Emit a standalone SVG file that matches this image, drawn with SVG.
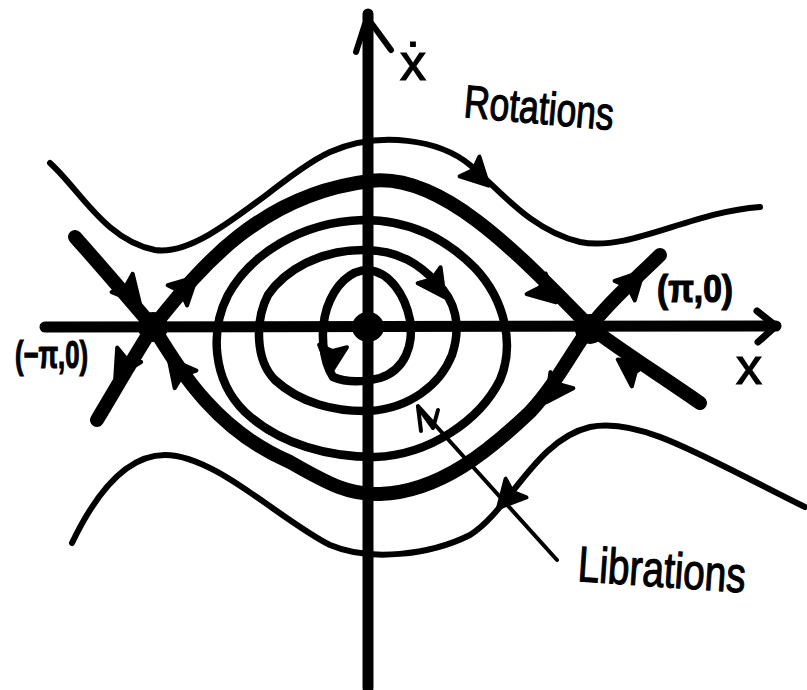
<svg xmlns="http://www.w3.org/2000/svg" xmlns:xlink="http://www.w3.org/1999/xlink" width="807" height="690" viewBox="0 0 807 690">
<style>
.c{fill:none;stroke:#000;stroke-linecap:round;stroke-linejoin:round}
.sep{stroke-width:14}
.rot{stroke-width:6}
.lib{stroke-width:8.5}
.ax{stroke-width:11}
.ah{fill:#000;stroke:#000;stroke-width:4;stroke-linejoin:round}
.t{font-family:"Liberation Sans",Arial,sans-serif;fill:#000;stroke:#000;stroke-width:1.2}
</style>
<defs>
<path id="ah" d="M15,0 L-12,-14 L-7,0 L-12,14 Z"/>
</defs>
<rect width="807" height="690" fill="#fff"/>
<g id="axes">
<path class="c ax" d="M368,688 L368,14"/>
<path class="c" stroke-width="6" d="M356,52 L365,24 M391,50 L372,24"/>
<path class="c ax" d="M45,327 L776,326"/>
<path class="c" stroke-width="7" d="M757,311 L776,326 L758,342"/>
<ellipse cx="368" cy="327" rx="16" ry="15" fill="#000"/>
</g>
<g id="rotations">
<path class="c rot" d="M50,163 C80,190 105,240 155,250 C205,258 280,175 330,152 C380,130 440,140 470,165 C500,190 530,230 580,242 C630,252 690,212 760,207"/>
<path class="c rot" d="M72,543 C95,495 125,455 165,455 C215,455 280,520 330,545 C370,562 430,555 470,535 C510,510 535,440 590,427 C640,417 700,455 805,507"/>
</g>
<g id="separatrices">
<path class="c sep" d="M75,237 C100,265 130,300 153,327 C180,370 215,430 290,462 C330,485 350,495 380,494 C440,492 490,450 530,412 C555,385 570,355 590,327 C610,300 640,275 660,255"/>
<path class="c sep" d="M97,420 C115,390 135,355 153,327 C195,275 255,195 370,181 C440,172 515,250 590,327 C620,350 660,375 700,403"/>
<circle cx="153" cy="327" r="15" fill="#000"/>
<circle cx="590" cy="329" r="15" fill="#000"/>
</g>
<g id="librations">
<path class="c lib" d="M363,220 C300,222 250,255 228,295 C210,330 212,380 245,412 C280,445 330,457 375,457 C430,455 480,420 500,380 C515,345 505,300 475,268 C445,238 410,220 363,220 Z"/>
<path class="c lib" d="M363,250 C320,250 285,270 268,295 C255,320 255,360 275,380 C300,403 335,412 370,411 C410,408 440,385 452,355 C462,325 455,300 437,283 C420,265 400,250 363,250 Z"/>
<path class="c lib" d="M333,377 C322,360 320,330 327,308 C335,285 350,270 368,270 C390,272 405,295 410,320 C414,345 405,370 380,378 C360,383 345,382 333,377"/>
</g>
<g id="arrows">
<use xlink:href="#ah" class="ah" transform="translate(130,292) rotate(49)"/>
<use xlink:href="#ah" class="ah" transform="translate(186,287) rotate(-44)"/>
<use xlink:href="#ah" class="ah" transform="translate(123,365) rotate(121)"/>
<use xlink:href="#ah" class="ah" transform="translate(178,370) rotate(231)"/>
<use xlink:href="#ah" class="ah" transform="translate(545,292) rotate(43)"/>
<use xlink:href="#ah" class="ah" transform="translate(633,282) rotate(-46)"/>
<use xlink:href="#ah" class="ah" transform="translate(555,390) rotate(125)"/>
<use xlink:href="#ah" class="ah" transform="translate(630,368) rotate(215)"/>
<use xlink:href="#ah" class="ah" transform="translate(478,175) rotate(45)"/>
<use xlink:href="#ah" class="ah" transform="translate(508,497) rotate(132)"/>
<use xlink:href="#ah" class="ah" transform="translate(436,285) rotate(55)"/>
<use xlink:href="#ah" class="ah" transform="translate(332,358) rotate(95)"/>
</g>
<g id="leader">
<path class="c" stroke-width="4" d="M557,560 L418,406"/>
<path class="c" stroke-width="4" d="M421,431 L418,407 L433,428 L438,410"/>
</g>
<g id="labels">
<text class="t" x="400" y="80" font-size="52">ẋ</text>
<text class="t" x="463" y="117" font-size="46" textLength="150" lengthAdjust="spacingAndGlyphs" transform="rotate(5 463 117)">Rotations</text>
<text class="t" x="577" y="581" font-size="50" textLength="168" lengthAdjust="spacingAndGlyphs" transform="rotate(4 577 581)">Librations</text>
<text class="t" x="657" y="302" font-size="38" font-weight="bold" textLength="76" lengthAdjust="spacingAndGlyphs">(π,0)</text>
<text class="t" x="15" y="368" font-size="38" font-weight="bold" textLength="73" lengthAdjust="spacingAndGlyphs">(−π,0)</text>
<text class="t" x="736" y="384" font-size="52">x</text>
</g>
</svg>
